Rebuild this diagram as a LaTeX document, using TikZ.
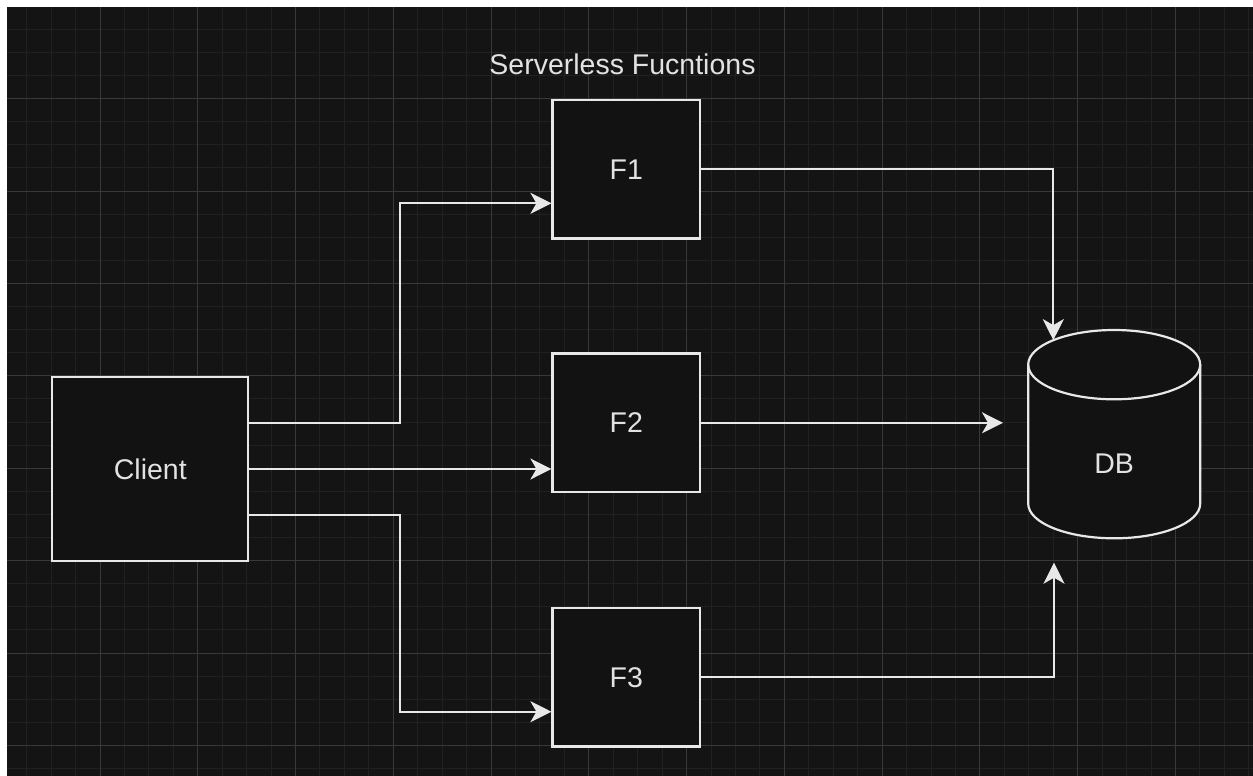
\documentclass[tikz,border=0pt]{standalone}
\usepackage{fontspec}
\setmainfont{Liberation Sans}
\usetikzlibrary{arrows.meta}

\definecolor{canvas}{HTML}{141414}
\definecolor{gridminor}{HTML}{212121}
\definecolor{gridmajor}{HTML}{393939}
\definecolor{boxfill}{HTML}{121212}
\definecolor{ink}{HTML}{E8E8E8}
\definecolor{labeltext}{HTML}{E2E2E2}

\begin{document}
\begin{tikzpicture}[x=1pt,y=-1pt,
  labelfont/.style={text=labeltext, font=\fontsize{28.5}{34}\selectfont},
  fnbox/.style={draw=ink, line width=2.2pt, fill=boxfill, labelfont,
    minimum width=147.5pt, minimum height=138.5pt, inner sep=0pt},
  clientbox/.style={fnbox, minimum width=196pt, minimum height=184pt},
  outline/.style={draw=ink, line width=2.2pt},
  conn/.style={draw=ink, line width=2pt,
    -{Stealth[length=21pt,width=21pt,inset=6pt]}},
  minorline/.style={draw=gridminor, line width=1pt},
  majorline/.style={draw=gridmajor, line width=1pt}]

\useasboundingbox (0,0) rectangle (1253,776);

% canvas and grid
\fill[canvas] (0,0) rectangle (1253,776);
\begin{scope}
  \clip (0,0) rectangle (1253,776);
  \foreach \i in {0,...,51}
    \draw[minorline] ({2.23+24.443*\i},0) -- ++(0,776);
  \foreach \j in {0,...,33}
    \draw[minorline] (0,{6.2+23.1*\j}) -- ++(1253,0);
  \foreach \i in {0,...,12}
    \draw[majorline] ({2.23+97.77*\i},0) -- ++(0,776);
  \foreach \j in {0,...,8}
    \draw[majorline] (0,{6.2+92.4*\j}) -- ++(1253,0);
\end{scope}
\fill[white] (0,0) rectangle (1253,6.7);
\fill[white] (0,0) rectangle (6.7,776);

% title
\node[labelfont, inner sep=0pt] (title) at (622.5,64.2) {Serverless Fucntions};

% client and functions
\node[clientbox] (Client) at (150.3,469) {Client};
\node[fnbox] (F1) at (626.25,169.2) {F1};
\node[fnbox] (F2) at (626.25,422.8) {F2};
\node[fnbox] (F3) at (626.25,677.2) {F3};

% database cylinder
\path[fill=boxfill] (1028.2,364.65) -- (1028.2,503.65)
  arc[start angle=180, end angle=0, x radius=86, y radius=34.65]
  -- (1200.2,364.65)
  arc[start angle=0, end angle=-180, x radius=86, y radius=34.65] -- cycle;
\draw[outline] (1028.2,364.65) -- (1028.2,503.65)
  arc[start angle=180, end angle=0, x radius=86, y radius=34.65]
  -- (1200.2,364.65);
\draw[outline] (1114.2,364.65) ellipse [x radius=86, y radius=34.65];
\node[labelfont, inner sep=0pt] (DB) at (1114.2,463.7) {DB};

% bends and free ends of the connectors
\coordinate (j1) at (400,203.3);
\coordinate (j3) at (400,711.7);
\coordinate (dbin1) at (1053.3,340.1);
\coordinate (dbin2) at (1003,422.8);
\coordinate (dbin3) at (1054,562.7);

% client to functions
\draw[conn] ([yshift=46pt]Client.east) -| (j1) -- (j1 -| F1.west);
\draw[conn] (Client.east) -- (Client.east -| F2.west);
\draw[conn] ([yshift=-46.3pt]Client.east) -| (j3) -- (j3 -| F3.west);

% functions to database
\draw[conn] (F1.east) -| (dbin1);
\draw[conn] (F2.east) -- (F2.east -| dbin2);
\draw[conn] (F3.east) -| (dbin3);
\end{tikzpicture}
\end{document}
